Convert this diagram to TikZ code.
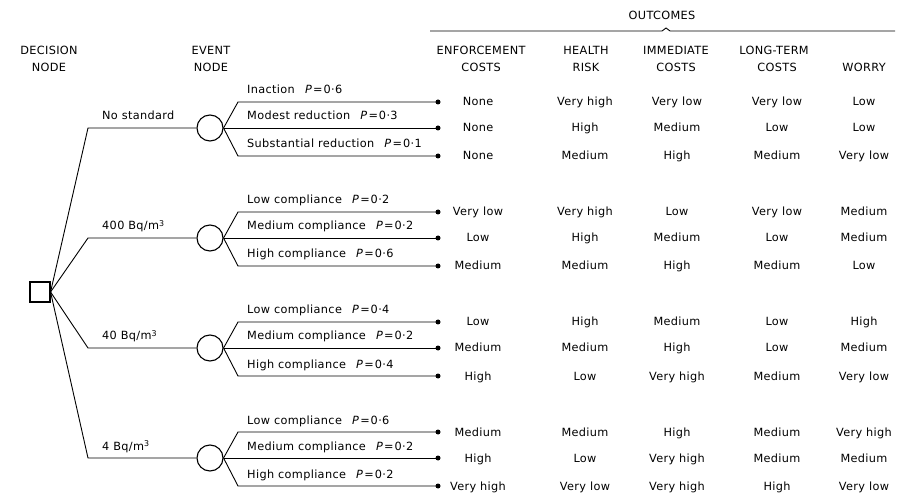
\documentclass[tikz,border=0pt]{standalone}
\usepackage{fontspec}
\setmainfont{DejaVu Sans}[LetterSpace=3]
\newcommand\probP[1]{\hspace{0.9em}\textit{P}\kern1pt=\kern1pt0·#1}
\begin{document}
\begin{tikzpicture}[x=1pt,y=-1pt,
  txt/.style={font=\fontsize{11.3}{17}\selectfont, inner sep=0pt},
  ln/.style={line width=0.9pt},
  dotend/.style={circle, fill=black, inner sep=0pt, minimum size=5pt},
  evnode/.style={circle, draw, line width=1.1pt, minimum size=26pt, inner sep=0pt},
  decnode/.style={rectangle, draw, line width=1.1pt, minimum size=20pt, inner sep=0pt}]
\useasboundingbox (0,0) rectangle (911,497);

% headers
\node[txt, anchor=base] (h1a) at (49,55) {DECISION};
\node[txt, anchor=base] (h1b) at (49,72) {NODE};
\node[txt, anchor=base] (h2a) at (211,55) {EVENT};
\node[txt, anchor=base] (h2b) at (211,72) {NODE};
\node[txt, anchor=base] (hout) at (662,20) {OUTCOMES};
\coordinate (bra) at (430,31);
\coordinate (brb) at (662,31);
\coordinate (brc) at (666,28);
\coordinate (brd) at (670,31);
\coordinate (bre) at (895,31);
\draw[ln] (bra) -- (brb) -- (brc) -- (brd) -- (bre);
\node[txt, anchor=base] (c1a) at (481,55) {ENFORCEMENT};
\node[txt, anchor=base] (c1b) at (481,72) {COSTS};
\node[txt, anchor=base] (c2a) at (586,55) {HEALTH};
\node[txt, anchor=base] (c2b) at (586,72) {RISK};
\node[txt, anchor=base] (c3a) at (676,55) {IMMEDIATE};
\node[txt, anchor=base] (c3b) at (676,72) {COSTS};
\node[txt, anchor=base] (c4a) at (774,55) {LONG-TERM};
\node[txt, anchor=base] (c4b) at (777,72) {COSTS};
\node[txt, anchor=base] (c5b) at (864,72) {WORRY};

% decision node
\node[decnode] (dec) at (40,292) {};

\foreach \i/\gy/\dl/\ta/\tb/\tc in {
 1/128/{No standard}/{Inaction\probP{6}}/{Modest reduction\probP{3}}/{Substantial reduction\probP{1}},
 2/238/{400 Bq/m\textsuperscript{3}}/{Low compliance\probP{2}}/{Medium compliance\probP{2}}/{High compliance\probP{6}},
 3/348/{40 Bq/m\textsuperscript{3}}/{Low compliance\probP{4}}/{Medium compliance\probP{2}}/{High compliance\probP{4}},
 4/458/{4 Bq/m\textsuperscript{3}}/{Low compliance\probP{6}}/{Medium compliance\probP{2}}/{High compliance\probP{2}}}
{
  \node[evnode] (ev\i) at (210,\gy) {};
  \coordinate (b\i) at (88,\gy);
  \draw[ln] (dec.east) -- (b\i) -- (ev\i.west);
  \node[txt, anchor=base west] (dl\i) at (102,\gy-8) {\dl};
  \coordinate (ua\i) at (238,\gy-26);
  \coordinate (la\i) at (238,\gy+28);
  \node[dotend] (ue\i) at (438,\gy-26) {};
  \node[dotend] (me\i) at (438,\gy) {};
  \node[dotend] (le\i) at (438,\gy+28) {};
  \draw[ln] (ev\i.east) -- (ua\i) -- (ue\i.center);
  \draw[ln] (ev\i.east) -- (me\i.center);
  \draw[ln] (ev\i.east) -- (la\i) -- (le\i.center);
  \node[txt, anchor=base west] (ut\i) at (247,\gy-34) {\ta};
  \node[txt, anchor=base west] (mt\i) at (247,\gy-8) {\tb};
  \node[txt, anchor=base west] (lt\i) at (247,\gy+20) {\tc};
}

% outcome values
\foreach \y/\a/\b/\c/\d/\e in {
 102/None/Very high/Very low/Very low/Low,
 128/None/High/Medium/Low/Low,
 156/None/Medium/High/Medium/Very low,
 212/Very low/Very high/Low/Very low/Medium,
 238/Low/High/Medium/Low/Medium,
 266/Medium/Medium/High/Medium/Low,
 322/Low/High/Medium/Low/High,
 348/Medium/Medium/High/Low/Medium,
 376/High/Low/Very high/Medium/Very low,
 432/Medium/Medium/High/Medium/Very high,
 458/High/Low/Very high/Medium/Medium,
 486/Very high/Very low/Very high/High/Very low}
{
  \node[txt, anchor=base] (va\y) at (478,\y+4) {\a};
  \node[txt, anchor=base] (vb\y) at (585,\y+4) {\b};
  \node[txt, anchor=base] (vc\y) at (677,\y+4) {\c};
  \node[txt, anchor=base] (vd\y) at (777,\y+4) {\d};
  \node[txt, anchor=base] (ve\y) at (864,\y+4) {\e};
}
\end{tikzpicture}
\end{document}
